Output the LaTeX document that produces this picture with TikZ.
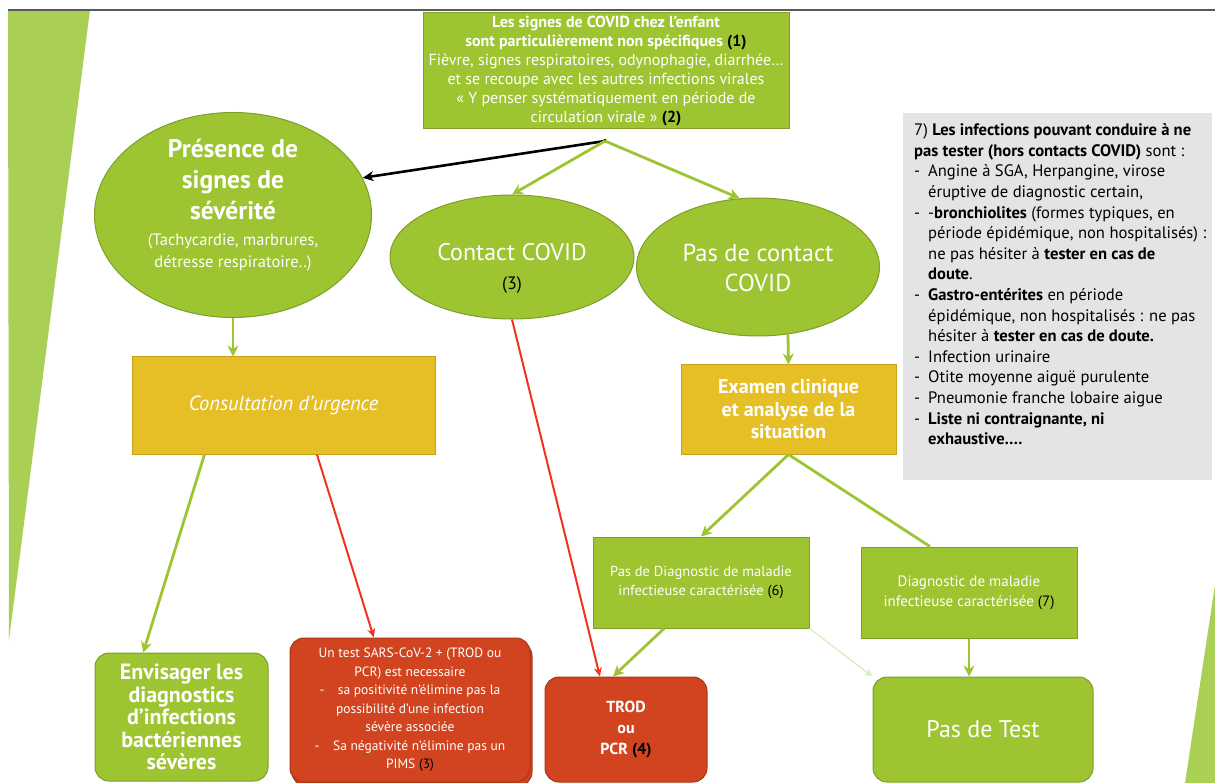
\documentclass[tikz,border=0pt]{standalone}
\usepackage{fontspec}
\setmainfont{PT Sans}
\usetikzlibrary{shapes.geometric,arrows.meta,calc}
\definecolor{leaf}{HTML}{9DC431}
\definecolor{leafdark}{HTML}{7E9E27}
\definecolor{stripe}{HTML}{A9CF54}
\definecolor{gold}{HTML}{E6BF27}
\definecolor{golddark}{HTML}{C7A21C}
\definecolor{brick}{HTML}{D2441F}
\definecolor{brickdark}{HTML}{A6361A}
\definecolor{note}{HTML}{E4E4E4}
\definecolor{pale}{HTML}{DCE9BD}
\definecolor{alert}{HTML}{F0321E}
\newcommand{\fsz}[2]{\fontsize{#1}{#2}\selectfont}
\newcommand{\blk}[1]{\textcolor{black}{#1}}
\tikzset{
  bubble/.style={ellipse, draw=leafdark, fill=leaf, line width=1pt, inner sep=0pt},
  gbox/.style={rectangle, draw=leafdark, fill=leaf, line width=1pt, text=white, align=center, inner sep=0pt},
  ybox/.style={rectangle, draw=golddark, fill=gold, line width=1pt, text=white, align=center, inner sep=0pt},
  rbox/.style={rectangle, rounded corners=14pt, draw=brickdark, fill=brick, line width=1pt, text=white, align=center, inner sep=0pt},
  gend/.style={gbox, rounded corners=14pt},
  btxt/.style={text=white, align=center, inner sep=0pt},
  garrow/.style={draw=leaf, line width=2.8pt, -{Stealth[length=11pt,width=11pt]}},
  rarrow/.style={draw=alert, line width=2pt, -{Stealth[length=9pt,width=8pt]}},
  karrow/.style={draw=black, line width=2.6pt, -{Stealth[length=11pt,width=10pt]}},
  farrow/.style={draw=pale, line width=1.2pt, -{Stealth[length=8pt,width=7pt]}},
}

\begin{document}
\begin{tikzpicture}[x=1pt, y=-1pt]
  \useasboundingbox (0,0) rectangle (1215,783);
  % slide decoration
  \fill[stripe] (8,10) -- (90,10) -- (9,640) -- cycle;
  \fill[stripe] (1215,585) -- (1185,783) -- (1215,783) -- cycle;
  \draw[black!65, line width=1.2pt] (8,10) -- (1215,10);

  % top question
  \node[gbox, minimum width=366pt, minimum height=116pt, font=\fsz{16}{19}] (top) at (606,71)
    {\bfseries Les signes de COVID chez l'enfant\\
     \bfseries sont particulièrement non spécifiques \blk{(1)}\\
     Fièvre, signes respiratoires, odynophagie, diarrhée…\\
     et se recoupe avec les autres infections virales\\
     « Y penser systématiquement en période de\\
     circulation virale » \blk{\bfseries(2)}};
  \coordinate (split) at (605,141);
  \fill (split) circle (2);

  % ellipses
  \node[bubble, minimum width=277pt, minimum height=205pt] (sever) at (233,215) {};
  \node[btxt, font=\fsz{25.5}{31}\bfseries] (sevtext) at (233,205)
    {Présence de\\ signes de\\ sévérité\\[-5pt]
     \fsz{16.5}{22}\mdseries (Tachycardie, marbrures,\\[-9pt] \fsz{16.5}{22}\mdseries détresse respiratoire..)};
  \node[bubble, minimum width=244pt, minimum height=124pt] (contact) at (512,257) {};
  \node[btxt, font=\fsz{24}{29}] (contacttext) at (512,268)
    {Contact COVID\\ \fsz{18}{29}\blk{(3)}};
  \node[bubble, minimum width=243pt, minimum height=138pt] (nocontact) at (758,267) {};
  \node[btxt, font=\fsz{24.5}{30}] (nocontacttext) at (758,268)
    {Pas de contact\\ COVID};

  % middle boxes
  \node[ybox, minimum width=303pt, minimum height=97pt, font=\fsz{20.5}{24}\itshape] (urgence) at (283.5,405.5)
    {Consultation d'urgence};
  \node[ybox, minimum width=215pt, minimum height=89pt, font=\fsz{20}{22.5}\bfseries] (examen) at (788.5,409.5)
    {Examen clinique\\ et analyse de la\\ situation};

  % infection list
  \node[rectangle, fill=note, minimum width=309pt, minimum height=367pt, anchor=north west] (note) at (903,113) {};
  \node[anchor=north west, inner sep=0pt, align=left] (notetext) at (914,121)
    {\fsz{16.6}{20.6}\begin{tabular}{@{}p{14pt}@{}l@{}}
     \multicolumn{2}{@{}l@{}}{7) \textbf{Les infections pouvant conduire à ne}}\\
     \multicolumn{2}{@{}l@{}}{\textbf{pas tester (hors contacts COVID)} sont :}\\
     - & Angine à SGA, Herpangine, virose\\
       & éruptive de diagnostic certain,\\
     - & -\textbf{bronchiolites} (formes typiques, en\\
       & période épidémique, non hospitalisés) :\\
       & ne pas hésiter à \textbf{tester en cas de}\\
       & \textbf{doute}.\\
     - & \textbf{Gastro-entérites} en période\\
       & épidémique, non hospitalisés : ne pas\\
       & hésiter à \textbf{tester en cas de doute.}\\
     - & Infection urinaire\\
     - & Otite moyenne aiguë purulente\\
     - & Pneumonie franche lobaire aigue\\
     - & \textbf{Liste ni contraignante, ni}\\
       & \textbf{exhaustive….}
     \end{tabular}};

  % diagnosis boxes
  \node[gbox, minimum width=216pt, minimum height=91pt, font=\fsz{14.5}{19}] (nodiag) at (701,582.5)
    {Pas de Diagnostic de maladie\\ infectieuse caractérisée \blk{(6)}};
  \node[gbox, minimum width=216pt, minimum height=91pt, font=\fsz{15}{20}] (diag) at (969,592.5)
    {Diagnostic de maladie\\ infectieuse caractérisée \blk{(7)}};

  % outcomes
  \node[gend, minimum width=173pt, minimum height=128pt, font=\fsz{22}{22.5}\bfseries] (envis) at (181.5,717)
    {Envisager les\\ diagnostics\\ d'infections\\ bactériennes\\ sévères};
  \node[rbox, minimum width=240pt, minimum height=144pt] (sarsback) at (412,714) {};
  \node[rbox, minimum width=240pt, minimum height=144pt, font=\fsz{13.5}{18.5}] (sars) at (410,710)
    {Un test SARS-CoV-2 + (TROD ou\\ PCR) est necessaire\\
     -\quad sa positivité n'élimine pas la\\ possibilité d'une infection\\ sévère associée\\
     -\quad Sa négativité n'élimine pas un\\ PIMS \blk{(3)}};
  \node[rbox, minimum width=162pt, minimum height=105pt, font=\fsz{16}{21}\bfseries] (trod) at (626,729.5)
    {TROD\\ ou\\ PCR \blk{(4)}};
  \node[gend, minimum width=220pt, minimum height=105pt, font=\fsz{24}{28}] (notest) at (983,729.5)
    {Pas de Test};

  % connectors
  \draw[karrow] (split) -- (sever.16);
  \draw[garrow] (split) -- (contact.north);
  \draw[garrow] (split) -- (nocontact.105);
  \draw[garrow] (sever.south) -- (sever.south |- urgence.north);
  \draw[garrow] (nocontact.-66) -- (examen.north);
  \draw[garrow] ($(urgence.south west)!0.24!(urgence.south east)$) -- ($(envis.north west)!0.28!(envis.north east)$);
  \draw[rarrow] ($(urgence.south west)!0.61!(urgence.south east)$) -- ($(sars.north west)!0.35!(sars.north east)$);
  \draw[rarrow] (contact.south) -- ($(trod.north west)!0.34!(trod.north east)$);
  \draw[garrow] (examen.south) -- (nodiag.north);
  \draw[draw=leaf, line width=2.8pt] (examen.south) -- ($(diag.north west)!0.32!(diag.north east)$);
  \draw[garrow] ($(nodiag.south west)!0.33!(nodiag.south east)$) -- ($(trod.north west)!0.42!(trod.north east)$);
  \draw[farrow] (nodiag.south east) -- (notest.north west);
  \draw[garrow] (diag.south) -- (diag.south |- notest.north);
\end{tikzpicture}
\end{document}
